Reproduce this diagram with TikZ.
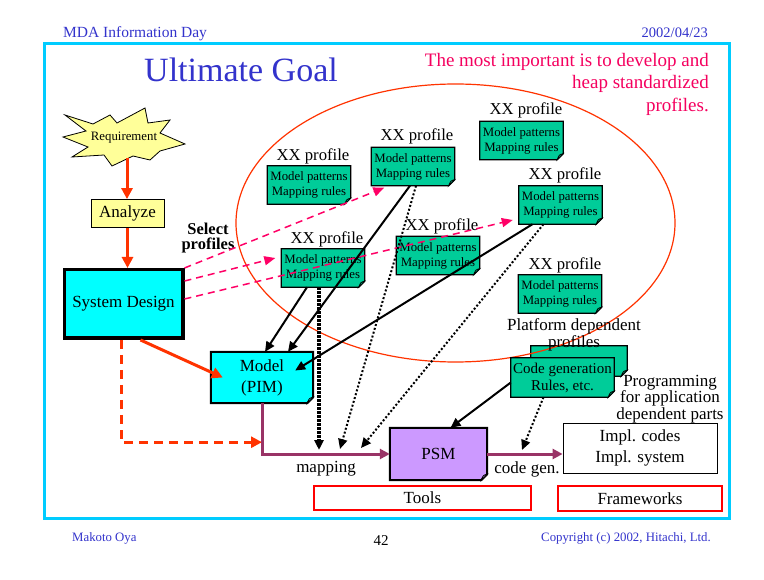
\documentclass[tikz,border=0pt]{standalone}
\usepackage{fontspec}
\setmainfont{Liberation Serif}
\usetikzlibrary{arrows.meta}
\pgfdeclarelayer{bg}
\pgfsetlayers{bg,main}
\definecolor{bluetxt}{RGB}{51,51,204}
\definecolor{redtxt}{RGB}{245,0,95}
\definecolor{framecyan}{RGB}{0,204,255}
\definecolor{ellc}{RGB}{255,51,0}
\definecolor{arrred}{RGB}{255,51,0}
\definecolor{yel}{RGB}{255,255,153}
\definecolor{cyanf}{RGB}{0,255,255}
\definecolor{notegreen}{RGB}{0,204,153}
\definecolor{psmc}{RGB}{204,153,255}
\definecolor{purp}{RGB}{153,51,102}
\definecolor{pinkc}{RGB}{255,0,102}
\definecolor{boxred}{RGB}{255,0,0}
\newcommand\fs[2]{\fontsize{#1}{#2}\selectfont}
\newcommand\earbox[3][1.2pt]{%
\draw[line width=#1, fill=#3, line join=miter] (#2.north west) -- (#2.north east) -- ([yshift=6pt]#2.south east) -- ([xshift=-6pt]#2.south east) -- (#2.south west) -- cycle;
\draw[line width=0.8pt, fill=#3] ([xshift=-6pt]#2.south east) .. controls ([xshift=-4pt,yshift=5pt]#2.south east) .. ([yshift=6pt]#2.south east) -- cycle;}
\begin{document}
\begin{tikzpicture}[x=1pt,y=-1pt,
  note/.style={minimum width=83pt, minimum height=38pt, inner sep=0pt, align=center, font=\fs{12.8}{15}},
  xxlab/.style={inner sep=0pt, font=\fs{16.7}{18}},
  txt17/.style={inner sep=0pt, align=center, font=\fs{17}{21}},
  redarrow/.style={draw=arrred, line width=3pt, -{Triangle[length=11pt,width=11pt]}},
  reddash/.style={redarrow, dash pattern=on 9pt off 6pt},
  purpline/.style={draw=purp, line width=3pt, -{Triangle[length=10pt,width=10pt]}},
  blk/.style={draw=black, line width=2pt, -{Triangle[length=10pt,width=9pt]}},
  dotline/.style={blk, dash pattern=on 2pt off 2pt},
  thickdot/.style={blk, line width=3.2pt, dash pattern=on 2.4pt off 1.6pt},
  pinkdash/.style={draw=pinkc, line width=1.5pt, dash pattern=on 7pt off 5pt, -{Triangle[length=11pt,width=9pt]}}
]
\useasboundingbox (0,0) rectangle (764,580);

% header / footer
\node[anchor=base west, text=bluetxt, font=\fs{15.5}{18}, inner sep=0pt] (hdrl) at (63,38) {MDA Information Day};
\node[anchor=base east, text=bluetxt, font=\fs{14.5}{18}, inner sep=0pt] (hdrr) at (708,38) {2002/04/23};
\node[anchor=base, text=bluetxt, font=\fs{34}{40}, inner sep=0pt] (title) at (241,82) {Ultimate Goal};
\node[anchor=north east, align=right, text=redtxt, font=\fs{19}{22.5}, inner sep=0pt] (goal) at (709,53) {The most important is to develop and\\heap standardized\\profiles.};
\node[anchor=base west, text=bluetxt, font=\fs{12.8}{15}, inner sep=0pt] (ftl) at (72,541) {Makoto Oya};
\node[anchor=base, font=\fs{15}{17}, inner sep=0pt] (pg) at (381,545) {42};
\node[anchor=base east, text=bluetxt, font=\fs{12.8}{15}, inner sep=0pt] (ftr) at (711,541) {Copyright (c) 2002, Hitachi, Ltd.};

% left column
\node[inner sep=0pt, font=\fs{12.8}{15}] (req) at (124,138) {Requirement};
\coordinate (reqbot) at (127,158);
\node[draw, fill=yel, line width=0.8pt, minimum width=73pt, minimum height=28pt, inner sep=0pt, font=\fs{17}{17}] (an) at (127.5,213.5) {Analyze};
\node[draw, fill=cyanf, line width=3.5pt, minimum width=118.5pt, minimum height=68.5pt, inner sep=0pt, font=\fs{17}{17}] (sd) at (123.5,304) {System Design};
\node[inner sep=0pt, align=center, font=\bfseries\fs{16.5}{15.5}] (sel) at (208,238) {Select\\profiles};

% profiles
\node[note] (p1) at (309,185) {Model patterns\\Mapping rules};
\node[xxlab] (l1) at (313,156) {XX profile};
\node[note] (p2) at (413,166.5) {Model patterns\\Mapping rules};
\node[xxlab] (l2) at (417,136) {XX profile};
\node[note] (p3) at (521.5,140.5) {Model patterns\\Mapping rules};
\node[xxlab] (l3) at (526,110) {XX profile};
\node[note] (p4) at (560.5,205) {Model patterns\\Mapping rules};
\node[xxlab] (l4) at (565,175) {XX profile};
\node[note] (p5) at (438,255.5) {Model patterns\\Mapping rules};
\node[xxlab] (l5) at (442,226) {XX profile};
\node[note] (p6) at (323,268) {Model patterns\\Mapping rules};
\node[xxlab] (l6) at (327,239) {XX profile};
\node[note] (p7) at (560,294) {Model patterns\\Mapping rules};
\node[xxlab] (l7) at (565,265) {XX profile};

% platform profiles
\node[inner sep=0pt, minimum width=96pt, minimum height=30pt] (back) at (579,361) {};
\node[note, minimum width=103pt, minimum height=39pt, font=\fs{15}{17}] (cg) at (562.5,377.5) {Code generation\\Rules, etc.};
\node[inner sep=0pt, align=center, font=\fs{17}{12.5}] (pdl) at (574,335) {Platform dependent\\profiles};
\node[inner sep=0pt, align=center, font=\fs{17}{12.5}] (prog) at (670,399) {Programming\\for application\\dependent parts};

% models
\node[txt17, minimum width=102pt, minimum height=51pt] (pim) at (262,377.5) {Model\\(PIM)};
\node[txt17, minimum width=97pt, minimum height=52pt] (psm) at (438.5,454) {PSM};
\node[txt17, draw, line width=0.8pt, minimum width=154pt, minimum height=50pt] (impl) at (640,448) {Impl. codes\\Impl. system};
\node[txt17] (maplab) at (326,469) {mapping};
\node[txt17] (cglab) at (527,469) {code gen.};
\node[txt17, draw=boxred, line width=2pt, minimum width=217pt, minimum height=24pt] (tools) at (422.5,498) {Tools};
\node[txt17, draw=boxred, line width=2pt, minimum width=164pt, minimum height=25pt] (fw) at (640,498.5) {Frameworks};

% coordinates on the mapping line
\coordinate (m1) at (319,450);
\coordinate (m2) at (340,449);
\coordinate (m3) at (361,448);
\coordinate (m4) at (522,450);
\path (pim.south) ++(0,39) coordinate (dashend);

\begin{pgfonlayer}{bg}
\fill[white] (0,0) rectangle (764,580);
\draw[framecyan, line width=3pt] (44,44) rectangle (729,518);
\draw[line width=0.8pt, fill=yel, line join=miter] (65,115) -- (93,124) -- (110,115) -- (117,123) -- (145,108) -- (148,123) -- (170,120) -- (160,133) -- (185,144) -- (160,151) -- (150,160) -- (133,156) -- (112,166) -- (104,155) -- (72,157) -- (88,147) -- (63,137) -- (86,131) -- cycle;
\earbox{p1}{notegreen}
\earbox{p2}{notegreen}
\earbox{p3}{notegreen}
\earbox{p4}{notegreen}
\earbox{p5}{notegreen}
\earbox{p6}{notegreen}
\earbox{p7}{notegreen}
\earbox{back}{notegreen}
\draw[ellc, line width=1.2pt] (455.5,223) ellipse [x radius=219.5pt, y radius=139pt];
\earbox{cg}{notegreen}
\earbox[2pt]{pim}{cyanf}
\earbox[2pt]{psm}{psmc}
\end{pgfonlayer}

% connectors
\draw[redarrow] (reqbot) -- (reqbot |- an.north);
\draw[redarrow] (an.south) -- (an.south |- sd.north);
\draw[redarrow] ([xshift=17pt]sd.south) -- ([xshift=12pt]pim.west);
\draw[reddash] ([xshift=-2pt]sd.south) |- (dashend);
\draw[purpline] (pim.south) |- (psm.west);
\draw[purpline] (psm.east) -- (psm.east -| impl.west);

\draw[pinkdash] (sd.north east) -- ([xshift=13pt,yshift=-2pt]p2.south west);
\draw[pinkdash] ([yshift=-13pt]sd.north east) -- ([xshift=-6pt,yshift=10pt]p6.west);
\draw[pinkdash] ([yshift=-31pt]sd.north east) -- ([xshift=-6pt,yshift=-15pt]p4.west);

\draw[blk] ([xshift=-16pt]p6.south) -- ([xshift=3pt]pim.north);
\draw[blk] ([xshift=-3pt]p2.south) -- ([xshift=26pt]pim.north);
\draw[blk] ([xshift=-28pt]p4.south) -- ([xshift=-18pt,yshift=7pt]pim.east);
\draw[blk] ([yshift=-5pt]cg.west) -- ([xshift=12pt]psm.north);

\draw[thickdot] ([xshift=-4pt]p6.south) -- (m1);
\draw[dotline] ([xshift=3pt]p2.south) -- (m2);
\draw[dotline] ([xshift=-17pt]p4.south) -- (m3);
\draw[dotline] ([xshift=-19pt]cg.south) -- (m4);
\end{tikzpicture}
\end{document}
